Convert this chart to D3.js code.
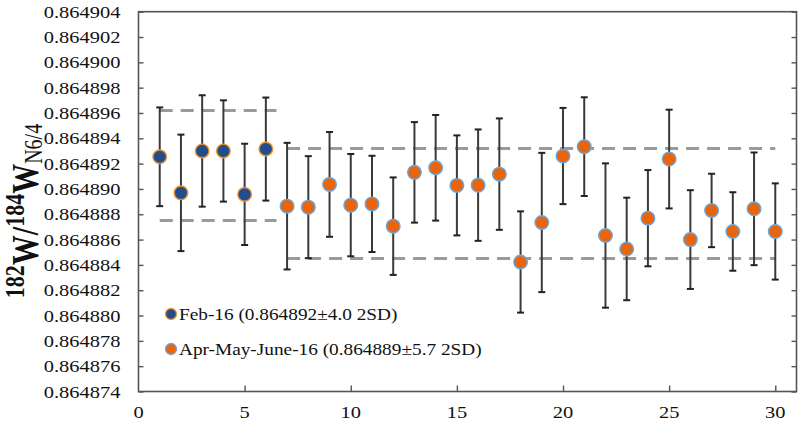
<!DOCTYPE html>
<html>
<head>
<meta charset="utf-8">
<script src="https://cdn.jsdelivr.net/npm/d3@7"></script>
<style>
  body { margin: 0; background: #fff; }
</style>
</head>
<body>
<script>
// values in units of 1e-6 above 0.864
let febRuns = [1, 2, 3, 4, 5, 6]
let febMean = [892.54, 889.69, 893.0, 893.0, 889.57, 893.15]
let febErr = [3.9, 4.6, 4.4, 4.0, 4.0, 4.07]

let aprRuns = [7, 8, 9, 10, 11, 12, 13, 14, 15, 16, 17, 18, 19, 20, 21, 22, 23, 24, 25, 26, 27, 28, 29, 30]
let aprMean = [888.64, 888.56, 890.36, 888.72, 888.82, 887.06, 891.31, 891.67, 890.28, 890.3, 891.17, 884.23,
               887.35, 892.6, 893.34, 886.32, 885.26, 887.69, 892.36, 886.0, 888.3, 886.64, 888.43, 886.64]
let aprErr = [5.0, 4.03, 4.14, 4.04, 3.8, 3.85, 3.97, 4.17, 3.95, 4.4, 4.4, 4.0,
              5.5, 3.8, 3.9, 5.7, 4.05, 3.8, 3.9, 3.9, 2.9, 3.1, 4.45, 3.8]

// 2SD band limits (x start, x end, y)
let bandLines = [
  [1, 6.5, 896.2], [1, 6.5, 887.5],
  [7, 30, 893.2], [7, 30, 884.5]
]

let yTicks = d3.range(874, 905, 2)
let xTicks = [0, 5, 10, 15, 20, 25, 30]
let legendLabels = ["Feb-16 (0.864892\u00b14.0 2SD)", "Apr-May-June-16 (0.864889\u00b15.7 2SD)"]

let width = 800, height = 430
let plotLeft = 138.5, plotRight = 796.5, plotTop = 11.7, plotBottom = 391.5
let serif = '"Liberation Serif", "Times New Roman", "DejaVu Serif", serif'
let stretch = 1.17  // the source picture is a bit wider than tall

let svg = d3.select("body").append("svg").attr("width", width).attr("height", height)
  .style("font-family", serif)

let x = d3.scaleLinear().domain([0, 31]).range([plotLeft, plotRight])
let y = d3.scaleLinear().domain([874, 904]).range([plotBottom, plotTop])

let axisColor = "#555"

// frame
svg.append("rect")
  .attr("x", plotLeft).attr("y", plotTop)
  .attr("width", plotRight - plotLeft).attr("height", plotBottom - plotTop)
  .attr("fill", "none").attr("stroke", axisColor).attr("stroke-width", 1.6)

// left + right axis (inward ticks)
let yAxis = svg.append("g").attr("transform", "translate(" + plotLeft + ",0)")
  .call(d3.axisRight(y).tickValues(yTicks).tickSize(5).tickFormat(d => ""))
yAxis.select(".domain").remove()
yAxis.selectAll("line").attr("stroke", axisColor).attr("stroke-width", 1.4)

let yAxisR = svg.append("g").attr("transform", "translate(" + plotRight + ",0)")
  .call(d3.axisLeft(y).tickValues(yTicks).tickSize(5).tickFormat(d => ""))
yAxisR.select(".domain").remove()
yAxisR.selectAll("line").attr("stroke", axisColor).attr("stroke-width", 1.4)

svg.append("g").selectAll("text").data(yTicks).join("text")
  .attr("transform", d => "translate(" + (plotLeft - 18) + "," + y(d) + ") scale(" + stretch + ",1)")
  .attr("dy", "0.35em").attr("text-anchor", "end")
  .attr("font-size", 17.5).attr("fill", "#111")
  .style("font-family", serif)
  .text(d => "0.864" + d3.format("03d")(d))

// bottom axis (inward ticks)
let xAxis = svg.append("g").attr("transform", "translate(0," + plotBottom + ")")
  .call(d3.axisTop(x).tickValues(xTicks.slice(1)).tickSize(6).tickFormat(d => ""))
xAxis.select(".domain").remove()
xAxis.selectAll("line").attr("stroke", axisColor).attr("stroke-width", 1.4)

svg.append("g").selectAll("text").data(xTicks).join("text")
  .attr("transform", d => "translate(" + x(d) + ",418) scale(" + stretch + ",1)")
  .attr("text-anchor", "middle")
  .attr("font-size", 17.5).attr("fill", "#111")
  .style("font-family", serif)
  .text(d => d)

// y label
let ylab = svg.append("text")
  .attr("transform", "translate(38,211) rotate(-90) scale(1,1.25)")
  .attr("text-anchor", "middle")
  .attr("font-weight", "bold").attr("font-size", 30).attr("fill", "#111")
  .style("font-family", serif)
ylab.append("tspan").attr("font-size", 22).attr("dy", -11).text("182")
ylab.append("tspan").attr("dy", 11).text("W/")
ylab.append("tspan").attr("font-size", 22).attr("dy", -11).text("184")
ylab.append("tspan").attr("dy", 11).text("W")
ylab.append("tspan").attr("font-size", 20).attr("font-weight", "normal").attr("dy", 3).text("N6/4")

// dashed 2SD lines
svg.append("g").selectAll("line").data(bandLines).join("line")
  .attr("x1", d => x(d[0])).attr("x2", d => x(d[1]))
  .attr("y1", d => y(d[2])).attr("y2", d => y(d[2]))
  .attr("stroke", "#9a9a9a").attr("stroke-width", 3)
  .attr("stroke-dasharray", "13,8")

function series(runs, means, errs, fill, edge) {
  let data = runs.map((r, i) => ({ r: r, m: means[i], e: errs[i] }))
  let g = svg.append("g")
  let bars = g.selectAll("g.bar").data(data).join("g").attr("class", "bar")
  bars.append("line")
    .attr("x1", d => x(d.r)).attr("x2", d => x(d.r))
    .attr("y1", d => y(d.m + d.e)).attr("y2", d => y(d.m - d.e))
    .attr("stroke", "#3a3a3a").attr("stroke-width", 2)
  bars.append("line")
    .attr("x1", d => x(d.r) - 3.5).attr("x2", d => x(d.r) + 3.5)
    .attr("y1", d => y(d.m + d.e)).attr("y2", d => y(d.m + d.e))
    .attr("stroke", "#222").attr("stroke-width", 2)
  bars.append("line")
    .attr("x1", d => x(d.r) - 3.5).attr("x2", d => x(d.r) + 3.5)
    .attr("y1", d => y(d.m - d.e)).attr("y2", d => y(d.m - d.e))
    .attr("stroke", "#222").attr("stroke-width", 2)
  g.selectAll("circle").data(data).join("circle")
    .attr("cx", d => x(d.r)).attr("cy", d => y(d.m)).attr("r", 6.8)
    .attr("fill", fill).attr("stroke", edge).attr("stroke-width", 1.4)
}

series(febRuns, febMean, febErr, "#1f4e8a", "#f0902e")
series(aprRuns, aprMean, aprErr, "#e8650c", "#6aa6e0")

// legend
let legend = svg.append("g")
let legendStyle = [["#1f4e8a", "#f0902e"], ["#e8650c", "#6aa6e0"]]
legendLabels.forEach((t, i) => {
  let ly = 314 + i * 35
  legend.append("circle").attr("cx", 171).attr("cy", ly).attr("r", 5.5)
    .attr("fill", legendStyle[i][0]).attr("stroke", legendStyle[i][1]).attr("stroke-width", 1.3)
  legend.append("text")
    .attr("transform", "translate(179," + ly + ") scale(" + stretch + ",1)")
    .attr("dy", "0.35em")
    .attr("font-size", 16.5).attr("fill", "#111")
    .style("font-family", serif)
    .text(t)
})
</script>
</body>
</html>
